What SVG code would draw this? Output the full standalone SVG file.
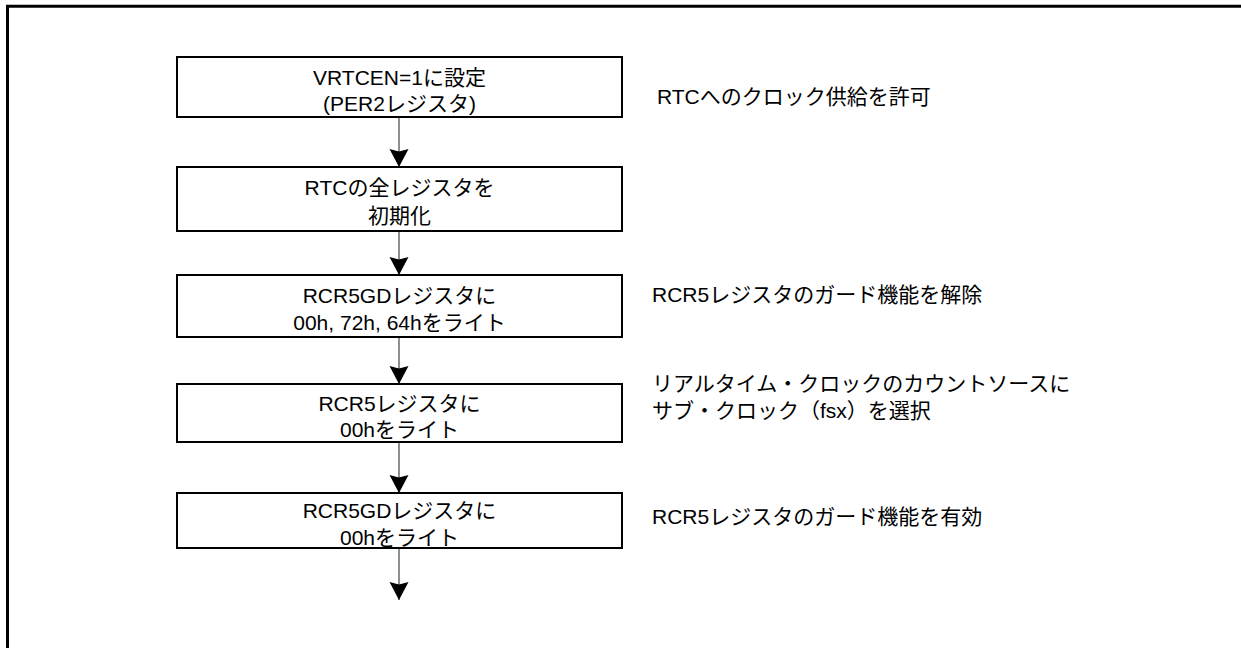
<svg xmlns="http://www.w3.org/2000/svg" width="1241" height="648" viewBox="0 0 1241 648">
<style>
text{font-family:"Liberation Sans","Noto Sans CJK JP",sans-serif;font-size:21px;fill:#000}
.c{text-anchor:middle}
.box{fill:#fff;stroke:#000;stroke-width:2}
.ln{stroke:#444;stroke-width:1.2;fill:none}
</style>
<defs>
<marker id="ah" markerWidth="20" markerHeight="20" refX="18" refY="10" orient="auto" markerUnits="userSpaceOnUse">
<path d="M0,0.5 L18,10 L0,19.5 L2.5,10 Z" fill="#000"/>
</marker>
</defs>
<rect width="1241" height="648" fill="#fff"/>
<path d="M7.5,648 V6.2 H1241" fill="none" stroke="#000" stroke-width="3"/>
<g id="connectors">
<line class="ln" x1="399" y1="117" x2="399" y2="167" marker-end="url(#ah)"/>
<line class="ln" x1="399" y1="231" x2="399" y2="275" marker-end="url(#ah)"/>
<line class="ln" x1="399" y1="337" x2="399" y2="384" marker-end="url(#ah)"/>
<line class="ln" x1="399" y1="442" x2="399" y2="493" marker-end="url(#ah)"/>
<line class="ln" x1="399" y1="548" x2="399" y2="600" marker-end="url(#ah)"/>
</g>
<g id="n1">
<rect class="box" x="177" y="57" width="445" height="60"/>
<text class="c" x="399.5" y="85">VRTCEN=1に設定</text>
<text class="c" x="399.5" y="111">(PER2レジスタ)</text>
</g>
<g id="n2">
<rect class="box" x="177" y="167" width="445" height="64"/>
<text class="c" x="399.5" y="195">RTCの全レジスタを</text>
<text class="c" x="399.5" y="223">初期化</text>
</g>
<g id="n3">
<rect class="box" x="177" y="275" width="445" height="62"/>
<text class="c" x="399.5" y="303">RCR5GDレジスタに</text>
<text class="c" x="399.5" y="330">00h, 72h, 64hをライト</text>
</g>
<g id="n4">
<rect class="box" x="177" y="384" width="445" height="58"/>
<text class="c" x="399.5" y="411">RCR5レジスタに</text>
<text class="c" x="399.5" y="437">00hをライト</text>
</g>
<g id="n5">
<rect class="box" x="177" y="493" width="445" height="55"/>
<text class="c" x="399.5" y="518">RCR5GDレジスタに</text>
<text class="c" x="399.5" y="545">00hをライト</text>
</g>
<g id="notes">
<text x="657" y="104">RTCへのクロック供給を許可</text>
<text x="652" y="302">RCR5レジスタのガード機能を解除</text>
<text x="652" y="391">リアルタイム・クロックのカウントソースに</text>
<text x="652" y="418">サブ・クロック（fsx）を選択</text>
<text x="652" y="524">RCR5レジスタのガード機能を有効</text>
</g>
</svg>
